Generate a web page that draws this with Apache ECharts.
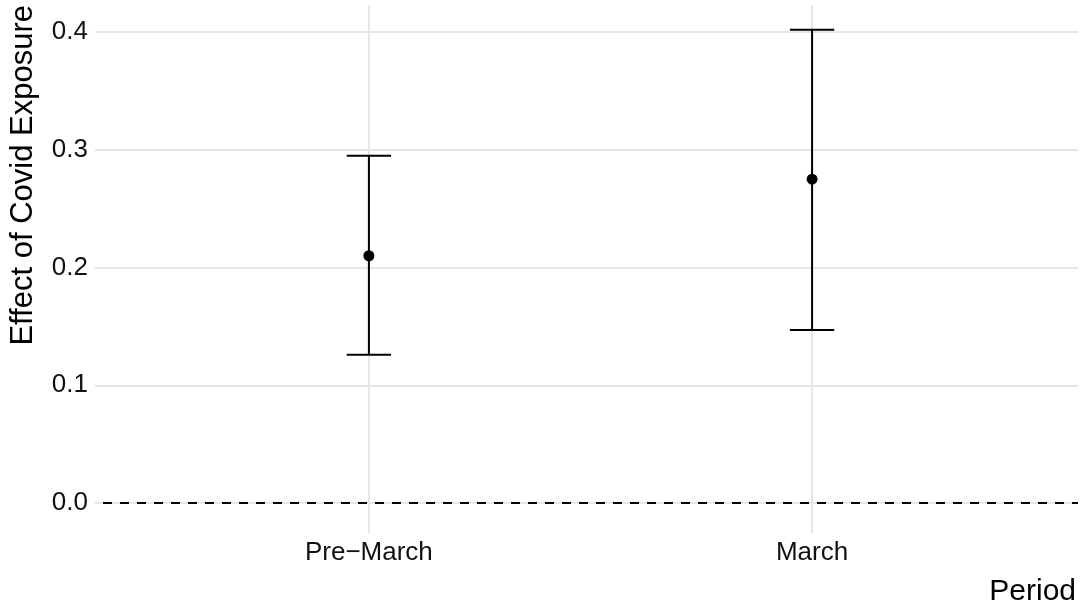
<!DOCTYPE html>
<html>
<head>
<meta charset="utf-8">
<script src="https://cdn.jsdelivr.net/npm/echarts@6/dist/echarts.min.js"></script>
<style>
html,body{margin:0;padding:0;background:#fff;}
#chart{width:1082px;height:613px;}
</style>
</head>
<body>
<div id="chart"></div>
<script>
// Data
var categories = ['Pre\u2212March', 'March'];
var estimates = [0.210, 0.275];
var lowerCI = [0.126, 0.147];
var upperCI = [0.295, 0.402];
var yTicks = [0.0, 0.1, 0.2, 0.3, 0.4];
var referenceLine = 0;
var xTitle = 'Period';
var yTitle = 'Effect of Covid Exposure';

var FONT = '"Liberation Sans", Helvetica, Arial, sans-serif';
var chart = echarts.init(document.getElementById('chart'), null, {renderer: 'canvas'});

var rows = categories.map(function (c, i) { return [i, estimates[i], lowerCI[i], upperCI[i]]; });

var capHalf = 0.05;

var option = {
  animation: false,
  backgroundColor: '#ffffff',
  grid: {left: 95, right: 4, top: 5, bottom: 80, containLabel: false, outerBoundsMode: 'none'},
  xAxis: {
    type: 'value',
    min: -0.618, max: 1.6,
    axisLine: {show: false}, axisTick: {show: false}, splitLine: {show: false},
    axisLabel: {
      customValues: categories.map(function (c, i) { return i; }),
      formatter: function (v) { return categories[Math.round(v)] || ''; },
      fontFamily: FONT, fontSize: 26, color: '#111', margin: 7
    }
  },
  yAxis: {
    type: 'value',
    min: -0.0255, max: 0.423,
    axisLine: {show: false}, axisTick: {show: false}, splitLine: {show: false},
    axisLabel: {
      customValues: yTicks,
      formatter: function (v) { return v.toFixed(1); },
      fontFamily: FONT, fontSize: 26, color: '#111', margin: 7
    }
  },
  graphic: [
    {type: 'text', x: 23, y: 5, rotation: Math.PI / 2,
     style: {text: yTitle, fontFamily: FONT, fontSize: 31, fill: '#000', align: 'right', verticalAlign: 'middle'}},
    {type: 'text', x: 1076, y: 592,
     style: {text: xTitle, fontFamily: FONT, fontSize: 30, fill: '#000', align: 'right', verticalAlign: 'middle'}}
  ],
  series: [
    {
      type: 'line', data: [], silent: true,
      markLine: {
        silent: true, symbol: 'none', label: {show: false},
        lineStyle: {color: '#e6e6e6', width: 2, type: 'solid'},
        data: yTicks.map(function (t) { return {yAxis: t}; })
          .concat(categories.map(function (c, i) { return {xAxis: i}; }))
      },
      z: 1
    },
    {
      type: 'line', data: [], silent: true,
      markLine: {
        silent: true, symbol: 'none', label: {show: false},
        lineStyle: {color: '#000', width: 2, type: [9, 8], dashOffset: -8},
        data: [{yAxis: referenceLine}]
      },
      z: 2
    },
    {
      type: 'custom',
      data: rows,
      z: 5,
      renderItem: function (params, api) {
        var x = api.value(0);
        var est = api.coord([x, api.value(1)]);
        var lo = api.coord([x, api.value(2)]);
        var hi = api.coord([x, api.value(3)]);
        var loL = api.coord([x - capHalf, api.value(2)]);
        var loR = api.coord([x + capHalf, api.value(2)]);
        var hiL = api.coord([x - capHalf, api.value(3)]);
        var hiR = api.coord([x + capHalf, api.value(3)]);
        var ls = {stroke: '#000', lineWidth: 2};
        return {
          type: 'group',
          children: [
            {type: 'line', shape: {x1: lo[0], y1: lo[1], x2: hi[0], y2: hi[1]}, style: ls},
            {type: 'line', shape: {x1: loL[0], y1: loL[1], x2: loR[0], y2: loR[1]}, style: ls},
            {type: 'line', shape: {x1: hiL[0], y1: hiL[1], x2: hiR[0], y2: hiR[1]}, style: ls},
            {type: 'circle', shape: {cx: est[0], cy: est[1], r: 5.5}, style: {fill: '#000'}}
          ]
        };
      }
    }
  ]
};
chart.setOption(option);
</script>
</body>
</html>
